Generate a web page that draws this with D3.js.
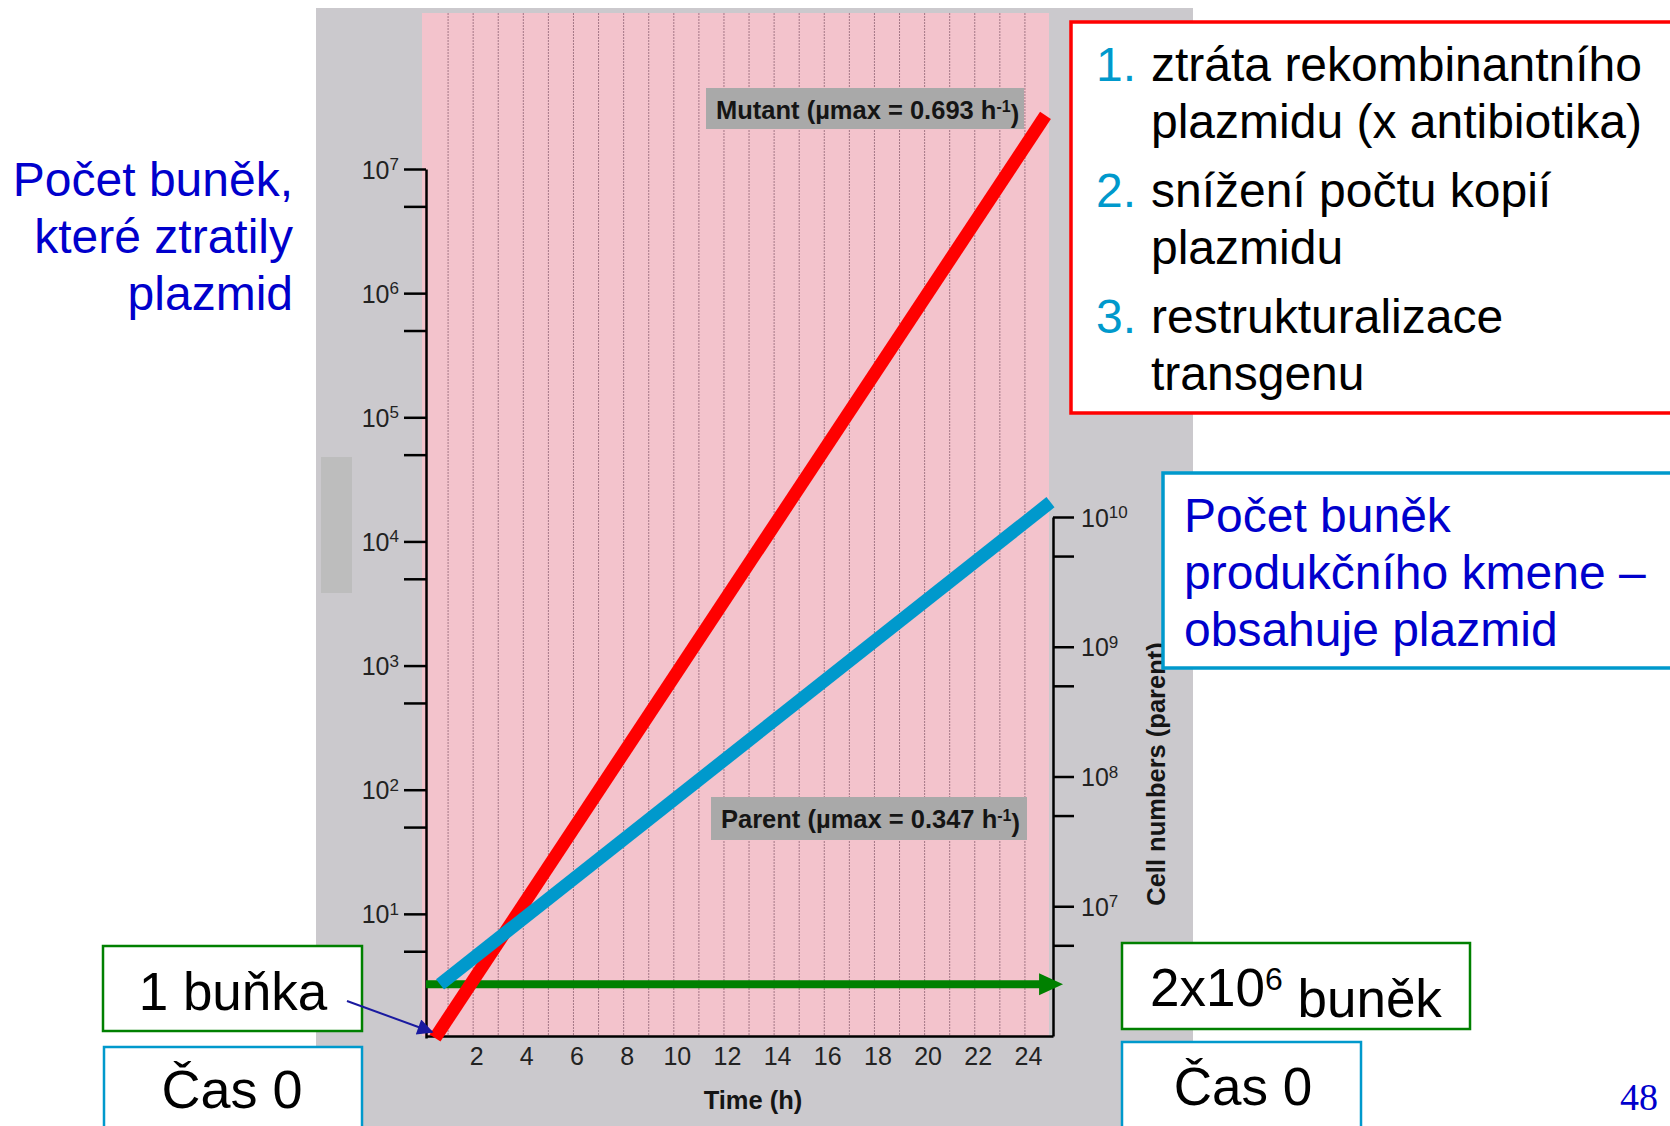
<!DOCTYPE html>
<html>
<head>
<meta charset="utf-8">
<script src="https://cdn.jsdelivr.net/npm/d3@7"></script>
<style>
  body { margin: 0; background: #fff; }
  svg { display: block; font-family: "Liberation Sans", Arial, Helvetica, sans-serif; }
</style>
</head>
<body>
<svg id="chart" width="1670" height="1126"></svg>
<script>
// values
var hourTicks = [2, 4, 6, 8, 10, 12, 14, 16, 18, 20, 22, 24];
var gridHours = [1, 2, 3, 4, 5, 6, 7, 8, 9, 10, 11, 12, 13, 14, 15, 16, 17, 18, 19, 20, 21, 22, 23, 24];
var leftMajor = [1e1, 1e2, 1e3, 1e4, 1e5, 1e6, 1e7];
var leftMinor = [5e0, 5e1, 5e2, 5e3, 5e4, 5e5, 5e6];
var rightMajor = [1e7, 1e8, 1e9, 1e10];
var rightMinor = [5e6, 5e7, 5e8, 5e9];

// mutant (left axis) and parent (right axis) lines
var mutantTime = [0.36, 24.7];
var mutantCells = [1, 2.7e7];
var parentTime = [0.56, 24.9];
var parentCells = [2.5e6, 1.3e10];
// green arrow: inoculum level (right axis)
var inoculumTime = [0, 25.4];
var inoculumCells = [2.5e6, 2.5e6];

var listItems = [
  ["1.", "ztráta rekombinantního", "plazmidu (x antibiotika)"],
  ["2.", "snížení počtu kopií", "plazmidu"],
  ["3.", "restrukturalizace", "transgenu"]
];

var svg = d3.select("#chart");

// scales
var x = d3.scaleLinear().domain([0, 25]).range([426, 1053]);
var yLeft = d3.scaleLog().domain([1, 1e7]).range([1038, 169]);
var yRight = d3.scaleLog().domain([1e6, 1e10]).range([1036, 517]);

// scanned figure background
svg.append("rect").attr("x", 316).attr("y", 8).attr("width", 877).attr("height", 1118).attr("fill", "#cbc9cd");
svg.append("rect").attr("x", 321).attr("y", 457).attr("width", 31).attr("height", 136).attr("fill", "#bdbdbd");
svg.append("rect").attr("x", 422).attr("y", 13).attr("width", 627).attr("height", 1023).attr("fill", "#f3c3cc");

// vertical hour grid
svg.append("g").selectAll("line")
  .data(gridHours)
  .enter().append("line")
    .attr("x1", function(d) { return x(d) - 3; })
    .attr("x2", function(d) { return x(d) - 3; })
    .attr("y1", 13).attr("y2", 1036)
    .attr("stroke", "#8a5f70")
    .attr("stroke-width", 1)
    .attr("stroke-dasharray", "2,1")
    .attr("opacity", 0.75);

// grey label boxes
function labelBox(bx, by, bw, bh, name, val) {
  svg.append("rect").attr("x", bx).attr("y", by).attr("width", bw).attr("height", bh).attr("fill", "#a9a9a9");
  var t = svg.append("text").attr("x", bx + 10).attr("y", by + 31)
    .attr("font-size", "25.5px").attr("font-weight", "bold").attr("fill", "#151515");
  t.append("tspan").text(name + " (\u00b5max = " + val + " h");
  t.append("tspan").attr("dy", "-0.45em").attr("font-size", "16px").text("-1");
  t.append("tspan").attr("dy", "0.45em").text(")");
}
labelBox(706, 88, 318, 41, "Mutant", "0.693");
labelBox(711, 797, 316, 43, "Parent", "0.347");

// left axis
var gL = svg.append("g")
  .attr("transform", "translate(" + x(0) + ",0)")
  .call(d3.axisLeft(yLeft).tickValues(leftMajor.concat(leftMinor)).tickSize(22).tickSizeOuter(0).tickFormat(""))
  .attr("font-family", null);
gL.select(".domain").attr("stroke-width", 2.5);
gL.selectAll(".tick line").attr("stroke-width", 2.5);
gL.selectAll(".tick").filter(function(d) { return leftMajor.indexOf(d) >= 0; })
  .append("text")
    .attr("x", -27).attr("y", 9)
    .attr("text-anchor", "end")
    .attr("fill", "#222")
    .attr("font-size", "25px")
    .each(function(d) {
      var t = d3.select(this);
      t.append("tspan").text("10");
      t.append("tspan").attr("dy", "-0.5em").attr("font-size", "17px").text(Math.round(Math.log10(d)));
    });

// right axis
var gR = svg.append("g")
  .attr("transform", "translate(" + x(25) + ",0)")
  .call(d3.axisRight(yRight).tickValues(rightMajor.concat(rightMinor)).tickSize(21).tickSizeOuter(0).tickFormat(""))
  .attr("font-family", null);
gR.select(".domain").attr("stroke-width", 2.5);
gR.selectAll(".tick line").attr("stroke-width", 2.5);
gR.selectAll(".tick").filter(function(d) { return rightMajor.indexOf(d) >= 0; })
  .append("text")
    .attr("x", 28).attr("y", 9)
    .attr("text-anchor", "start")
    .attr("fill", "#222")
    .attr("font-size", "25px")
    .each(function(d) {
      var t = d3.select(this);
      t.append("tspan").text("10");
      t.append("tspan").attr("dy", "-0.5em").attr("font-size", "17px").text(Math.round(Math.log10(d)));
    });

svg.append("text")
  .attr("transform", "translate(1165,774) rotate(-90)")
  .attr("text-anchor", "middle")
  .attr("font-size", "25.5px").attr("font-weight", "bold").attr("fill", "#151515")
  .text("Cell numbers (parent)");

// bottom axis
var gB = svg.append("g")
  .attr("transform", "translate(0,1036)")
  .call(d3.axisBottom(x).tickValues(hourTicks).tickSize(0).tickSizeOuter(0).tickPadding(11))
  .attr("font-family", null);
gB.select(".domain").attr("stroke-width", 2.5);
gB.selectAll("text").attr("font-size", "25px").attr("fill", "#222");

svg.append("text")
  .attr("x", 753).attr("y", 1109)
  .attr("text-anchor", "middle")
  .attr("font-size", "25.5px").attr("font-weight", "bold").attr("fill", "#151515")
  .text("Time (h)");

// lines
var inoculum = inoculumTime.map(function(t, i) { return [x(t), yRight(inoculumCells[i])]; });
var tipX = inoculum[1][0], lvY = inoculum[1][1];
svg.append("line")
  .attr("x1", inoculum[0][0]).attr("y1", lvY)
  .attr("x2", tipX - 22).attr("y2", lvY)
  .attr("stroke", "#008000").attr("stroke-width", 8);
svg.append("path")
  .attr("d", "M" + tipX + "," + lvY + "L" + (tipX - 24) + "," + (lvY - 11) + "L" + (tipX - 24) + "," + (lvY + 11) + "Z")
  .attr("fill", "#008000");

var mutantLine = d3.line()
  .x(function(d) { return x(d[0]); })
  .y(function(d) { return yLeft(d[1]); });
var parentLine = d3.line()
  .x(function(d) { return x(d[0]); })
  .y(function(d) { return yRight(d[1]); });

svg.append("path")
  .datum(d3.zip(mutantTime, mutantCells))
  .attr("d", mutantLine)
  .attr("fill", "none").attr("stroke", "#ff0000").attr("stroke-width", 13);
svg.append("path")
  .datum(d3.zip(parentTime, parentCells))
  .attr("d", parentLine)
  .attr("fill", "none").attr("stroke", "#0099cc").attr("stroke-width", 13);

// slide annotations
var blue = "#0000cc";
var leftLabel = ["Počet buněk,", "které ztratily", "plazmid"];
svg.append("g").selectAll("text")
  .data(leftLabel)
  .enter().append("text")
    .attr("x", 293)
    .attr("y", function(d, i) { return 196 + i * 57; })
    .attr("text-anchor", "end")
    .attr("font-size", "48px")
    .attr("fill", blue)
    .text(function(d) { return d; });

// red box with the list
svg.append("rect").attr("x", 1071).attr("y", 22).attr("width", 610).attr("height", 391)
  .attr("fill", "#fff").attr("stroke", "#ff0000").attr("stroke-width", 3.5);
var listG = svg.append("g").attr("font-size", "48px");
listItems.forEach(function(item, i) {
  var y0 = 81 + i * 126;
  listG.append("text").attr("x", 1096).attr("y", y0).attr("fill", "#0099cc").text(item[0]);
  listG.append("text").attr("x", 1151).attr("y", y0).attr("fill", "#000").text(item[1]);
  listG.append("text").attr("x", 1151).attr("y", y0 + 57).attr("fill", "#000").text(item[2]);
});

// blue box
svg.append("rect").attr("x", 1163).attr("y", 473).attr("width", 520).attr("height", 195)
  .attr("fill", "#fff").attr("stroke", "#0099cc").attr("stroke-width", 3.5);
var parentLabel = ["Počet buněk", "produkčního kmene –", "obsahuje plazmid"];
svg.append("g").selectAll("text")
  .data(parentLabel)
  .enter().append("text")
    .attr("x", 1184)
    .attr("y", function(d, i) { return 532 + i * 57; })
    .attr("font-size", "48px")
    .attr("fill", blue)
    .text(function(d) { return d; });

// bottom boxes
function box(bx, by, bw, bh, color) {
  svg.append("rect").attr("x", bx).attr("y", by).attr("width", bw).attr("height", bh)
    .attr("fill", "#fff").attr("stroke", color).attr("stroke-width", 2.5);
}
box(103, 946, 259, 85, "#008000");
svg.append("text").attr("x", 233).attr("y", 1010).attr("text-anchor", "middle")
  .attr("font-size", "53px").attr("fill", "#000").text("1 buňka");
box(104, 1047, 258, 100, "#0099cc");
svg.append("text").attr("x", 232).attr("y", 1108).attr("text-anchor", "middle")
  .attr("font-size", "54px").attr("fill", "#000").text("Čas 0");

box(1122, 943, 348, 86, "#008000");
var t2 = svg.append("text").attr("x", 1150).attr("y", 1006).attr("font-size", "53px").attr("fill", "#000");
t2.append("tspan").text("2x10");
t2.append("tspan").attr("dy", "-0.5em").attr("font-size", "32px").text("6");
t2.append("tspan").attr("dy", "0.5em").text(" buněk");

box(1122, 1042, 239, 100, "#0099cc");
svg.append("text").attr("x", 1243).attr("y", 1105).attr("text-anchor", "middle")
  .attr("font-size", "53px").attr("fill", "#000").text("Čas 0");

// small arrow from "1 buňka" to the mutant starting point
svg.append("defs").append("marker")
  .attr("id", "head").attr("viewBox", "0 0 10 10").attr("refX", 9).attr("refY", 5)
  .attr("markerWidth", 22).attr("markerHeight", 16).attr("markerUnits", "userSpaceOnUse")
  .attr("orient", "auto")
  .append("path").attr("d", "M0,0L10,5L0,10Z").attr("fill", "#1a1aa0");
svg.append("line")
  .attr("x1", 347).attr("y1", 1001)
  .attr("x2", x(mutantTime[0]) - 3).attr("y2", yLeft(mutantCells[0]) - 6)
  .attr("stroke", "#1a1aa0").attr("stroke-width", 2)
  .attr("marker-end", "url(#head)");

// slide number
svg.append("text").attr("x", 1639).attr("y", 1110).attr("text-anchor", "middle")
  .attr("font-family", "'Liberation Serif', 'Times New Roman', serif")
  .attr("font-size", "38px").attr("fill", blue).text("48");
</script>
</body>
</html>
